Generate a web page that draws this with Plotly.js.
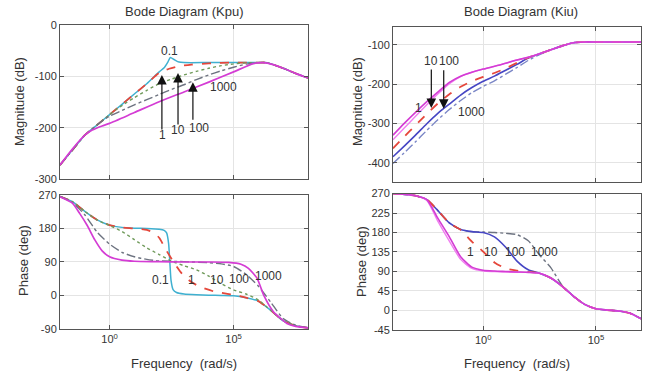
<!DOCTYPE html>
<html><head><meta charset="utf-8">
<script src="https://cdn.plot.ly/plotly-3.0.1.min.js"></script>
<style>body{margin:0;background:#fff}#c{width:654px;height:381px}</style>
</head><body><div id="c"></div>
<script>
// ---------- Kpu panel (left) : log10(frequency) and values ----------
const kpMagExp01 = [-2,-1.5,-1,-0.5,0,0.5,1,1.5,2,2.2,2.35,2.45,2.6,2.8,3,4,5,5.5,6,6.3,6.6,7,7.5,8];
const kpMag01    = [-272,-243,-214,-194,-174,-154,-134,-114,-91,-83,-72,-63,-67,-72,-73,-73,-73,-73,-73,-73,-77,-84,-94,-103];
const kpMagExp1  = [-2,-1.5,-1,-0.5,0,0.5,1,1.5,2,2.4,2.8,3.3,4,5,5.5,6,6.3,6.6,7,7.5,8];
const kpMag1     = [-272,-243,-214,-194,-174,-154,-134,-114,-93,-85,-80,-77,-74.5,-73,-73,-73,-73,-77,-84,-94,-103];
const kpMagExp10 = [-2,-1.5,-1,-0.5,0,0.3,0.7,1,1.5,2,2.5,3,3.5,4,4.5,5,5.5,6,6.3,6.6,7,7.5,8];
const kpMag10    = [-272,-243,-214,-194,-174,-163,-150,-141,-127,-114,-105,-97,-90,-84,-79,-75.5,-73.5,-73,-73,-77,-84,-94,-103];
const kpMagExp100 = [-2,-1.5,-1,-0.5,-0.2,0,0.5,1,1.5,2,2.5,3,3.5,4,4.5,5,5.5,6,6.3,6.6,7,7.5,8];
const kpMag100    = [-272,-243,-214,-194,-183,-177,-166,-155,-145,-135,-125,-116,-106,-97,-89,-82,-76,-73,-73,-77,-84,-94,-103];
const kpMagExp1000 = [-2,-1.5,-1,-0.7,-0.3,0,1,2,3,4,5,5.8,6.2,6.6,7,7.5,8];
const kpMag1000    = [-272,-241,-214,-204,-196,-191,-170,-149,-130,-111,-91,-75,-73,-77,-84,-94,-103];

const kpPhExp01 = [-2,-1.5,-1,-0.5,0,0.5,1,1.5,2,2.2,2.3,2.38,2.43,2.48,2.56,2.7,3,3.5,4,4.5,5,5.5,6,6.5,7,7.5,8];
const kpPh01    = [266,252,226,203,189,183,181,180,178,175,168,140,90,40,16,8,4,2,1,0,-1,-6,-15,-40,-68,-81,-87];
const kpPhExp1  = [-2,-1.5,-1,-0.5,0,0.5,1,1.5,1.8,2,2.3,2.6,2.9,3.3,3.7,4.2,4.7,5,5.5,6,6.5,7,7.5,8];
const kpPh1     = [266,252,226,203,189,183,180,176,168,155,120,88,60,36,22,11,5,2,-6,-15,-40,-68,-81,-87];
const kpPhExp10 = [-2,-1.5,-1,-0.5,0,0.5,1,1.5,2,2.5,3,3.5,4,4.5,5,5.5,6,6.5,7,7.5,8];
const kpPh10    = [266,252,226,203,188,172,150,128,110,92,80,69,52,32,15,4,-12,-40,-68,-81,-87];
const kpPhExp100 = [-2,-1.5,-1,-0.5,0,0.5,1,1.5,2,3,4,4.5,5,5.5,6,6.5,7,7.5,8];
const kpPh100    = [266,250,217,170,138,116,104,97,93,91,88,85,78,57,25,-18,-62,-80,-87];
const kpPhExp1000 = [-2,-1.5,-1.2,-0.9,-0.6,-0.3,0,0.5,1,2,3,4,4.8,5.3,5.6,5.95,6.22,6.6,7.15,7.5,8];
const kpPh1000    = [265,248,220,188,150,120,104,95,92,91,90,90,89,84,73,46,0,-43,-75,-83,-87];

// ---------- Kiu panel (right) ----------
const kiExp = [-4,-3.5,-3,-2.5,-2,-1.5,-1,-0.5,0,0.5,1,1.5,2,2.5,3,3.5,4,4.5,5,5.5,6,6.5,7];
const kiMag1    = [-330,-300,-272,-245,-220,-196,-180,-170,-162,-155,-147,-139,-132,-123,-113,-103,-95,-93,-93,-93,-93,-93,-93];
const kiMagPink = [-342,-312,-282,-253,-225,-199,-181,-170,-162,-155,-147,-139,-132,-123,-113,-103,-95,-93,-93,-93,-93,-93,-93];
const kiMag10   = [-364,-334,-305,-276,-249,-226,-207,-193,-182,-172,-160,-146,-133,-123,-113,-103,-95,-93,-93,-93,-93,-93,-93];
const kiMag100  = [-385,-358,-330,-301,-274,-251,-228,-209,-193,-180,-165,-150,-134,-123,-113,-103,-95,-93,-93,-93,-93,-93,-93];
const kiMag1000 = [-402,-375,-347,-318,-290,-265,-242,-222,-206,-192,-175,-158,-140,-125,-113,-103,-95,-93,-93,-93,-93,-93,-93];

const kiPh1    = [270,268,265,256,212,170,124,100,93,91,90,89,88,86,75,56,33,14,4,1,-1,-6,-19];
const kiPhPink = [270,268,265,254,205,160,118,97,91,90,89,88,88,86,75,56,33,14,4,1,-1,-6,-19];
const kiPh10   = [270,268,265,256,230,202,186,159,136,111,97,92,89,86,75,56,33,14,4,1,-1,-6,-19];
const kiPh100  = [270,268,265,256,230,202,187,182,180,170,146,114,94,86,75,56,33,14,4,1,-1,-6,-19];
const kiPh1000 = [270,268,265,256,230,202,187,182,181,180,178,175,161,128,99,58,33,14,4,1,-1,-6,-19];

const kpuLabels = ['0.1','1','10','100','1000'];
const kiuLabels = ['1','10','100','1000'];
const magTicksL = [-300,-200,-100,0];
const magTicksR = [-400,-300,-200,-100];
const phTicksL = [-90,0,90,180,270];
const phTicksR = [-45,0,45,90,135,180,225,270];
const freqTicks = [1,1e5];
const freqTickText = ['10<sup>0</sup>','10<sup>5</sup>'];

const C = {cyan:'#3fb0d0', red:'#e5473b', green:'#6f9a5a', gray:'#6d7380', mag:'#d43cd4',
           pink:'#f07ef0', blue:'#4646c4', slate:'#7a86c6'};

function tr(ex, v, color, dash, width, xa, ya){
  return {x: ex.map(e=>Math.pow(10,e)), y: v, type:'scatter', mode:'lines',
          line:{color, dash, width, shape:'spline', smoothing:0.6}, xaxis:xa, yaxis:ya, hoverinfo:'skip'};
}
const data = [
  tr(kpMagExp01, kpMag01, C.cyan, 'solid', 1.5, 'x','y'),
  tr(kpMagExp1, kpMag1, C.red, 'dash', 1.8, 'x','y'),
  tr(kpMagExp10, kpMag10, C.green, 'dot', 1.4, 'x','y'),
  tr(kpMagExp100, kpMag100, C.gray, 'dashdot', 1.4, 'x','y'),
  tr(kpMagExp1000, kpMag1000, C.mag, 'solid', 1.7, 'x','y'),
  tr(kpPhExp01, kpPh01, C.cyan, 'solid', 1.5, 'x2','y2'),
  tr(kpPhExp1, kpPh1, C.red, 'dash', 1.8, 'x2','y2'),
  tr(kpPhExp10, kpPh10, C.green, 'dot', 1.4, 'x2','y2'),
  tr(kpPhExp100, kpPh100, C.gray, 'dashdot', 1.4, 'x2','y2'),
  tr(kpPhExp1000, kpPh1000, C.mag, 'solid', 1.7, 'x2','y2'),
  tr(kiExp, kiMag1000, C.slate, 'dashdot', 1.4, 'x3','y3'),
  tr(kiExp, kiMag100, C.blue, 'solid', 1.6, 'x3','y3'),
  tr(kiExp, kiMag10, C.red, 'dash', 1.8, 'x3','y3'),
  tr(kiExp, kiMagPink, C.pink, 'solid', 1.4, 'x3','y3'),
  tr(kiExp, kiMag1, C.mag, 'solid', 1.6, 'x3','y3'),
  tr(kiExp, kiPh1000, C.gray, 'dashdot', 1.4, 'x4','y4'),
  tr(kiExp, kiPh100, C.blue, 'solid', 1.6, 'x4','y4'),
  tr(kiExp, kiPh10, C.red, 'dash', 1.8, 'x4','y4'),
  tr(kiExp, kiPhPink, C.pink, 'solid', 1.4, 'x4','y4'),
  tr(kiExp, kiPh1, C.mag, 'solid', 1.6, 'x4','y4')
];

const FAM = 'Liberation Sans, Arial, sans-serif';
const tickFont = {family:FAM, size:11, color:'#333'};
function xax(domain, anchor, range, labels){
  return {type:'log', domain, anchor, range, tickvals:freqTicks, ticktext:freqTickText,
    showticklabels:labels, ticks:'inside', ticklen:4, tickcolor:'#555', showline:true, linecolor:'#555',
    linewidth:1, mirror:'ticks', showgrid:true, gridcolor:'#e4e4e4', zeroline:false, tickfont:tickFont, fixedrange:true};
}
function yax(domain, anchor, range, tickvals){
  return {domain, anchor, range, tickvals, ticktext: tickvals.map(v=>String(v)), ticks:'inside', ticklen:4,
    tickcolor:'#555', showline:true, linecolor:'#555', linewidth:1, mirror:'ticks', showgrid:true,
    gridcolor:'#e4e4e4', zeroline:false, tickfont:tickFont, fixedrange:true};
}
const ann = [];
function txt(x,y,xref,yref,t,size,angle){ ann.push({x,y,xref,yref,text:t,showarrow:false,
   xanchor:'center', yanchor:'middle',
   font:{family:FAM,size:size||12,color:'#333'},textangle:angle||0}); }
function arr(xe,y,xref,yref,ay){ ann.push({x:xe,y,xref,yref,text:'',showarrow:true,ax:0,ay,
   arrowhead:2,arrowsize:1.6,arrowwidth:1.2,arrowcolor:'#111'}); }

// titles and axis titles (paper coords)
txt(184/654, 1-12/381, 'paper','paper','Bode Diagram (Kpu)',13);
txt(521/654, 1-12/381, 'paper','paper','Bode Diagram (Kiu)',13);
txt(20/654, 1-102/381,'paper','paper','Magnitude (dB)',13,-90);
txt(23/654, 1-261/381,'paper','paper','Phase (deg)',13,-90);
txt(358/654, 1-102/381,'paper','paper','Magnitude (dB)',13,-90);
txt(361/654, 1-262/381,'paper','paper','Phase (deg)',13,-90);
txt(184/654, 1-363/381,'paper','paper','Frequency&nbsp;&nbsp;(rad/s)',13);
txt(517/654, 1-363/381,'paper','paper','Frequency&nbsp;&nbsp;(rad/s)',13);

// Kpu magnitude labels and arrows
txt(2.43,-50,'x','y',kpuLabels[0]);
arr(2.11,-97,'x','y',56); txt(2.13,-214,'x','y',kpuLabels[1]);
arr(2.76,-93,'x','y',53); txt(2.74,-204,'x','y',kpuLabels[2]);
arr(3.36,-111,'x','y',39); txt(3.62,-200,'x','y',kpuLabels[3]);
txt(4.6,-121,'x','y',kpuLabels[4]);
// Kpu phase labels
txt(2.07,42,'x2','y2',kpuLabels[0]); txt(3.3,42,'x2','y2',kpuLabels[1]);
txt(4.33,42,'x2','y2',kpuLabels[2]); txt(5.23,44,'x2','y2',kpuLabels[3]); txt(6.4,52,'x2','y2',kpuLabels[4]);
// Kiu magnitude labels and arrows
txt(-2.3,-141,'x3','y3',kiuLabels[1]); txt(-1.53,-141,'x3','y3',kiuLabels[2]);
arr(-2.3,-261,'x3','y3',-40); arr(-1.75,-263,'x3','y3',-40);
txt(-2.88,-261,'x3','y3',kiuLabels[0]); txt(-0.5,-271,'x3','y3',kiuLabels[3]);
// Kiu phase labels
txt(-0.56,136,'x4','y4',kiuLabels[0]); txt(0.34,136,'x4','y4',kiuLabels[1]);
txt(1.4,136,'x4','y4',kiuLabels[2]); txt(2.7,136,'x4','y4',kiuLabels[3]);

const layout = {
  width:654, height:381, margin:{l:0,r:0,t:0,b:0}, showlegend:false,
  paper_bgcolor:'#fff', plot_bgcolor:'#fff', font:tickFont,
  xaxis: xax([0.0917,0.4709],'y',[-2,8],false),
  yaxis: yax([0.5289,0.9344],'x',[-300,0],magTicksL),
  xaxis2: xax([0.0917,0.4709],'y2',[-2,8],true),
  yaxis2: yax([0.1365,0.4882],'x2',[-90,270],phTicksL),
  xaxis3: xax([0.6009,0.9801],'y3',[-4,7],false),
  yaxis3: yax([0.5236,0.9291],'x3',[-448,-55],magTicksR),
  xaxis4: xax([0.6009,0.9801],'y4',[-4,7],true),
  yaxis4: yax([0.1339,0.4921],'x4',[-45,270],phTicksR),
  annotations: ann
};
Plotly.newPlot('c', data, layout, {staticPlot:true, displayModeBar:false});
</script></body></html>
